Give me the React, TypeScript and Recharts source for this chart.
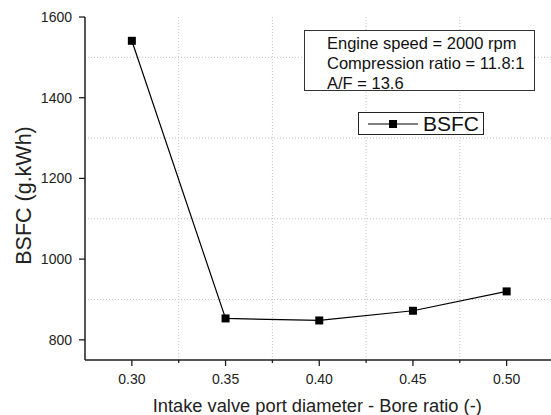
import React from "react";
import {
  LineChart,
  Line,
  XAxis,
  YAxis,
  ReferenceLine,
  Legend,
} from "recharts";

// BSFC vs intake valve port diameter / bore ratio
const ratios = [0.3, 0.35, 0.4, 0.45, 0.5];
const bsfcValues = [1541, 853, 848, 872, 920];

const xMajorTicks = [0.3, 0.35, 0.4, 0.45, 0.5];
const xMinorTicks = [0.325, 0.375, 0.425, 0.475];
const yMajorTicks = [800, 1000, 1200, 1400, 1600];
const yMinorTicks = [900, 1100, 1300, 1500];

const noteLines = [
  "Engine speed = 2000 rpm",
  "Compression ratio = 11.8:1",
  "A/F = 13.6",
];

const data = ratios.map((r, i) => ({ ratio: r, bsfc: bsfcValues[i] }));

const FONT = "'Liberation Sans', Arial, sans-serif";
const AXIS = "#1e1e1e";

const BottomTick = (props: any) => {
  const { x, y, payload } = props;
  const major = xMajorTicks.includes(payload.value);
  return (
    <g>
      <line x1={x} x2={x} y1={y} y2={y + (major ? 6 : 3)} stroke={AXIS} strokeWidth={1.3} />
      {major && (
        <text x={x} y={y + 24} textAnchor="middle" fontSize={14} fill="#222" fontFamily={FONT}>
          {payload.value.toFixed(2)}
        </text>
      )}
    </g>
  );
};

const TopTick = (props: any) => {
  const { x, y } = props;
  return <line x1={x} x2={x} y1={y} y2={y + 5} stroke={AXIS} strokeWidth={1.3} />;
};

const LeftTick = (props: any) => {
  const { x, y, payload } = props;
  return (
    <g>
      <line x1={x - 6} x2={x} y1={y} y2={y} stroke={AXIS} strokeWidth={1.3} />
      <text x={x - 13} y={y} dy="0.36em" textAnchor="end" fontSize={14} fill="#222" fontFamily={FONT}>
        {payload.value}
      </text>
    </g>
  );
};

const RightTick = (props: any) => {
  const { x, y } = props;
  return <line x1={x - 5} x2={x} y1={y} y2={y} stroke={AXIS} strokeWidth={1.3} />;
};

const SquareDot = (props: any) => {
  const { cx, cy } = props;
  return <rect x={cx - 4} y={cy - 4} width={8} height={8} fill="#000" />;
};

const XTitle = (props: any) => {
  const { viewBox } = props;
  return (
    <text
      x={viewBox.x + viewBox.width / 2 - 2}
      y={viewBox.y + 52}
      textAnchor="middle"
      fontSize={18.3}
      fill="#222"
      fontFamily={FONT}
    >
      Intake valve port diameter - Bore ratio (-)
    </text>
  );
};

const YTitle = (props: any) => {
  const { viewBox } = props;
  const cx = 31;
  const cy = viewBox.y + viewBox.height / 2 + 7;
  return (
    <text
      x={cx}
      y={cy}
      transform={`rotate(-90 ${cx} ${cy})`}
      textAnchor="middle"
      fontSize={21.5}
      fill="#222"
      fontFamily={FONT}
    >
      BSFC (g.kWh)
    </text>
  );
};

const LegendBox = () => (
  <div
    style={{
      width: 124,
      height: 21,
      border: "1px solid #222",
      background: "#fff",
      display: "flex",
      alignItems: "center",
      fontFamily: FONT,
    }}
  >
    <svg width={60} height={21}>
      <line x1={9} x2={59} y1={11} y2={11} stroke="#000" strokeWidth={1.2} />
      <rect x={30} y={7} width={8} height={8} fill="#000" />
    </svg>
    <span style={{ fontSize: 21, color: "#111", marginLeft: 4, lineHeight: "21px" }}>BSFC</span>
  </div>
);

export default function App() {
  return (
    <div
      style={{
        position: "absolute",
        left: 0,
        top: 0,
        width: 551,
        height: 415,
        overflow: "hidden",
        background: "#fff",
      }}
    >
      <LineChart
        width={570}
        height={415}
        data={data}
        margin={{ top: 17, right: 16.5, left: 0, bottom: 0 }}
      >
        <XAxis
          dataKey="ratio"
          type="number"
          domain={[0.275, 0.525]}
          ticks={[...xMajorTicks, ...xMinorTicks]}
          interval={0}
          height={55}
          tickSize={0}
          tickMargin={0}
          tickLine={false}
          tick={<BottomTick />}
          axisLine={{ stroke: AXIS, strokeWidth: 1.5 }}
          label={<XTitle />}
        />
        <XAxis
          xAxisId="top"
          orientation="top"
          type="number"
          domain={[0.275, 0.525]}
          ticks={[...xMajorTicks, ...xMinorTicks]}
          interval={0}
          height={0}
          tickSize={0}
          tickMargin={0}
          tickLine={false}
          tick={<TopTick />}
          axisLine={{ stroke: AXIS, strokeWidth: 1.5 }}
        />
        <YAxis
          type="number"
          domain={[750, 1600]}
          ticks={yMajorTicks}
          interval={0}
          width={85}
          tickSize={0}
          tickMargin={0}
          tickLine={false}
          tick={<LeftTick />}
          axisLine={{ stroke: AXIS, strokeWidth: 1.5 }}
          label={<YTitle />}
        />
        <YAxis
          yAxisId="right"
          orientation="right"
          type="number"
          domain={[750, 1600]}
          ticks={yMajorTicks}
          interval={0}
          width={0}
          tickSize={0}
          tickMargin={0}
          tickLine={false}
          tick={<RightTick />}
          axisLine={{ stroke: AXIS, strokeWidth: 1.5 }}
        />
        {yMinorTicks.map((v) => (
          <ReferenceLine key={`h${v}`} y={v} stroke="#c4c4c4" strokeDasharray="1 2" />
        ))}
        {xMinorTicks.map((v) => (
          <ReferenceLine key={`v${v}`} x={v} stroke="#c4c4c4" strokeDasharray="1 2" />
        ))}
        <Legend
          layout="horizontal"
          verticalAlign="middle"
          align="center"
          wrapperStyle={{ left: 358, top: 112, width: 126, height: 23 }}
          content={<LegendBox />}
        />
        <Line
          dataKey="bsfc"
          stroke="#000"
          strokeWidth={1.2}
          dot={<SquareDot />}
          activeDot={false}
          isAnimationActive={false}
        />
      </LineChart>
      <div
        style={{
          position: "absolute",
          left: 304,
          top: 30,
          width: 231,
          height: 61,
          border: "1px solid #333",
          background: "#fff",
          fontFamily: FONT,
          fontSize: 16.5,
          color: "#111",
          lineHeight: "20px",
          paddingLeft: 22,
          paddingTop: 2,
          boxSizing: "border-box",
          whiteSpace: "nowrap",
        }}
      >
        {noteLines.map((t) => (
          <div key={t}>{t}</div>
        ))}
      </div>
    </div>
  );
}
